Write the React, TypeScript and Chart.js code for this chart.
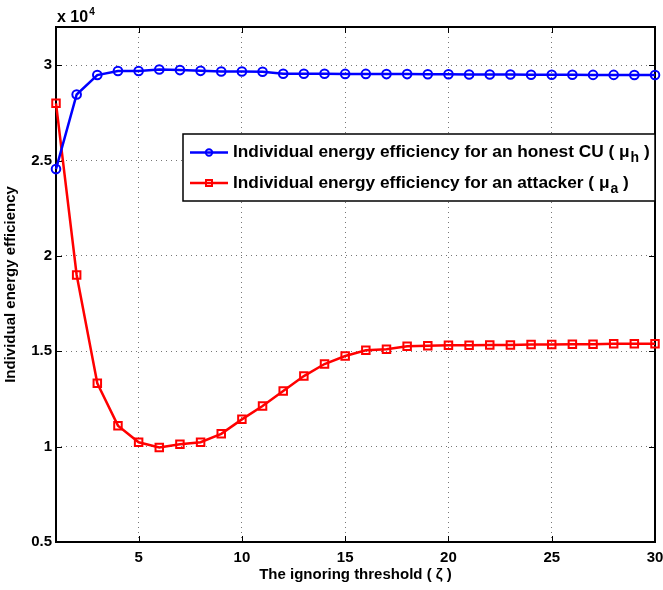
import React, { useEffect, useRef } from "react";
import { Chart, registerables } from "chart.js";

Chart.register(...registerables);

const zeta = [1, 2, 3, 4, 5, 6, 7, 8, 9, 10, 11, 12, 13, 14, 15, 16, 17, 18, 19, 20, 21, 22, 23, 24, 25, 26, 27, 28, 29, 30];
const honestCU = [2.455, 2.846, 2.948, 2.969, 2.969, 2.977, 2.974, 2.970, 2.967, 2.967, 2.965, 2.955, 2.955, 2.955, 2.954, 2.954, 2.953, 2.953, 2.952, 2.952, 2.951, 2.951, 2.951, 2.950, 2.950, 2.950, 2.949, 2.949, 2.948, 2.948];
const attacker = [2.80, 1.90, 1.332, 1.11, 1.023, 0.995, 1.012, 1.023, 1.067, 1.143, 1.213, 1.292, 1.370, 1.433, 1.475, 1.505, 1.510, 1.526, 1.529, 1.531, 1.531, 1.533, 1.533, 1.535, 1.535, 1.537, 1.537, 1.539, 1.540, 1.540];
const xTicks = [5, 10, 15, 20, 25, 30];
const yTicks = [0.5, 1, 1.5, 2, 2.5, 3];
const xLabel = "The ignoring threshold ( ζ )";
const yLabel = "Individual energy efficiency";
const exponentBase = "x 10";
const exponentPower = "4";
const legendEntries = [
  { main: "Individual energy efficiency for an honest CU ( μ", sub: "h", tail: " )" },
  { main: "Individual energy efficiency for an attacker ( μ", sub: "a", tail: " )" },
];

const FONT = '"Liberation Sans", Arial, Helvetica, sans-serif';
const BLUE = "rgb(0,0,255)";
const RED = "rgb(255,0,0)";

const framePlugin = {
  id: "frame",
  beforeDatasetsDraw(chart: any) {
    const { ctx, chartArea, scales } = chart;
    const { left, right, top, bottom } = chartArea;
    const x = scales.x;
    const y = scales.y;
    ctx.save();
    ctx.setLineDash([]);
    ctx.strokeStyle = "#000";
    ctx.lineWidth = 1;
    const tl = 6;
    ctx.beginPath();
    for (const v of xTicks) {
      const px = Math.round(x.getPixelForValue(v)) + 0.5;
      ctx.moveTo(px, bottom);
      ctx.lineTo(px, bottom - tl);
      ctx.moveTo(px, top);
      ctx.lineTo(px, top + tl);
    }
    for (const v of yTicks) {
      const py = Math.round(y.getPixelForValue(v)) + 0.5;
      ctx.moveTo(left, py);
      ctx.lineTo(left + tl, py);
      ctx.moveTo(right, py);
      ctx.lineTo(right - tl, py);
    }
    ctx.stroke();
    ctx.lineWidth = 2;
    ctx.strokeRect(left, top, right - left, bottom - top);
    ctx.fillStyle = "#000";
    ctx.textAlign = "left";
    ctx.textBaseline = "alphabetic";
    ctx.font = `bold 16px ${FONT}`;
    ctx.fillText(exponentBase, left + 1, top - 5);
    const w = ctx.measureText(exponentBase).width;
    ctx.font = `bold 10px ${FONT}`;
    ctx.fillText(exponentPower, left + 2 + w, top - 12);
    ctx.restore();
  },
};

const legendPlugin = {
  id: "customLegend",
  afterDatasetsDraw(chart: any) {
    const { ctx, chartArea } = chart;
    const { right, top } = chartArea;
    const boxLeft = 183;
    const boxTop = top + 107;
    const boxW = right - boxLeft;
    const boxH = 67;
    ctx.save();
    ctx.setLineDash([]);
    ctx.fillStyle = "#fff";
    ctx.fillRect(boxLeft, boxTop, boxW, boxH);
    ctx.strokeStyle = "#000";
    ctx.lineWidth = 1.5;
    ctx.strokeRect(boxLeft, boxTop, boxW, boxH);
    const rows = [boxTop + 18.5, boxTop + 49];
    chart.data.datasets.forEach((ds: any, i: number) => {
      const cy = rows[i];
      ctx.strokeStyle = ds.borderColor;
      ctx.lineWidth = 2.5;
      ctx.beginPath();
      ctx.moveTo(boxLeft + 7, cy);
      ctx.lineTo(boxLeft + 45, cy);
      ctx.stroke();
      ctx.lineWidth = 2;
      const mx = boxLeft + 26;
      ctx.beginPath();
      if (ds.pointStyle === "rect") {
        ctx.rect(mx - 3, cy - 3, 6, 6);
      } else {
        ctx.arc(mx, cy, 3.2, 0, Math.PI * 2);
      }
      ctx.stroke();
      const e = legendEntries[i];
      ctx.fillStyle = "#000";
      ctx.textAlign = "left";
      ctx.textBaseline = "middle";
      ctx.font = `bold 17.3px ${FONT}`;
      let tx = boxLeft + 50;
      ctx.fillText(e.main, tx, cy);
      tx += ctx.measureText(e.main).width + 1;
      ctx.font = `bold 14px ${FONT}`;
      ctx.fillText(e.sub, tx, cy + 6);
      tx += ctx.measureText(e.sub).width;
      ctx.font = `bold 17.3px ${FONT}`;
      ctx.fillText(e.tail, tx, cy);
    });
    ctx.restore();
  },
};

export default function App() {
  const ref = useRef<HTMLCanvasElement | null>(null);

  useEffect(() => {
    if (!ref.current) return;
    const tickFont = { family: FONT, size: 15, weight: "bold" as const };
    const titleFont = { family: FONT, size: 15, weight: "bold" as const };
    const chart = new Chart(ref.current, {
      type: "line",
      data: {
        datasets: [
          {
            label: "honest",
            data: zeta.map((z, i) => ({ x: z, y: honestCU[i] })),
            borderColor: BLUE,
            backgroundColor: "rgba(0,0,0,0)",
            borderWidth: 2.5,
            pointStyle: "circle",
            pointRadius: 4.3,
            pointBorderWidth: 2,
            pointBorderColor: BLUE,
            pointBackgroundColor: "rgba(0,0,0,0)",
            tension: 0,
            clip: false as any,
          },
          {
            label: "attacker",
            data: zeta.map((z, i) => ({ x: z, y: attacker[i] })),
            borderColor: RED,
            backgroundColor: "rgba(0,0,0,0)",
            borderWidth: 2.5,
            pointStyle: "rect",
            pointRadius: 5.3,
            pointBorderWidth: 2,
            pointBorderColor: RED,
            pointBackgroundColor: "rgba(0,0,0,0)",
            tension: 0,
            clip: false as any,
          },
        ],
      },
      options: {
        animation: false,
        responsive: false,
        maintainAspectRatio: false,
        layout: { padding: { top: 27, right: 8, left: 0, bottom: 0 } },
        plugins: { legend: { display: false }, tooltip: { enabled: false } },
        scales: {
          x: {
            type: "linear",
            min: 1,
            max: 30,
            afterBuildTicks: (s: any) => {
              s.ticks = xTicks.map((v) => ({ value: v }));
            },
            afterFit: (s: any) => {
              s.height = 48;
              s.paddingLeft = 0;
              s.paddingRight = 0;
            },
            grid: { color: "#777", lineWidth: 1, drawTicks: false },
            border: { display: false, dash: [1, 4] },
            ticks: {
              padding: 7,
              color: "#000",
              font: tickFont,
              maxRotation: 0,
              autoSkip: false,
              callback: (v: any) => String(v),
            },
            title: {
              display: true,
              text: xLabel,
              color: "#000",
              font: titleFont,
              padding: { top: 0, bottom: 6 },
            },
          },
          y: {
            type: "linear",
            min: 0.5,
            max: 3.2,
            afterBuildTicks: (s: any) => {
              s.ticks = yTicks.map((v) => ({ value: v }));
            },
            afterFit: (s: any) => {
              s.width = 56;
              s.paddingTop = 0;
              s.paddingBottom = 0;
            },
            grid: { color: "#777", lineWidth: 1, drawTicks: false },
            border: { display: false, dash: [1, 4] },
            ticks: {
              padding: 4,
              color: "#000",
              font: tickFont,
              autoSkip: false,
              callback: (v: any) => String(v),
            },
            title: {
              display: true,
              text: yLabel,
              color: "#000",
              font: titleFont,
              padding: { top: 2, bottom: 0 },
            },
          },
        },
      },
      plugins: [framePlugin, legendPlugin],
    });
    return () => chart.destroy();
  }, []);

  return (
    <div style={{ position: "fixed", left: 0, top: 0, width: 663, height: 590, background: "#fff" }}>
      <canvas ref={ref} width={663} height={590} style={{ display: "block", width: 663, height: 590 }} />
    </div>
  );
}
